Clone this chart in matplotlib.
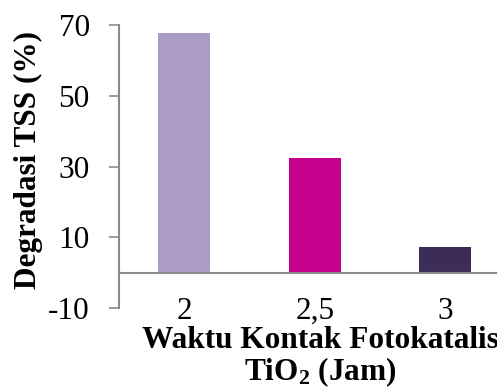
import matplotlib
matplotlib.use("Agg")
import matplotlib.pyplot as plt

plt.rcParams['font.family'] = 'Liberation Serif'
plt.rcParams['mathtext.default'] = 'regular'

categories = ['2', '2,5', '3']
degradasi = [67.8, 32.3, 7.2]
colors = ['#ab9bc7', '#c4008c', '#3c2c58']
yticks = [-10, 10, 30, 50, 70]

W, H = 497, 390
fig = plt.figure(figsize=(W / 100, H / 100), dpi=100)
# axes extends past right edge like the cropped original
ax = fig.add_axes([119 / W, 1 - 308 / H, 391.5 / W, 283 / H])

x = range(len(categories))
ax.bar(x, degradasi, width=0.4, color=colors, zorder=2)
ax.axhline(0, color='#8a8a8a', lw=1.5, zorder=3)

ax.set_xlim(-0.5, 2.5)
ax.set_ylim(-10, 70)
ax.set_yticks(yticks)
ax.set_yticklabels([str(t) for t in yticks])
ax.set_xticks(list(x))
ax.set_xticklabels(categories, fontsize=22.5)

for s in ['top', 'right', 'bottom']:
    ax.spines[s].set_visible(False)
ax.spines['left'].set_color('#8a8a8a')
ax.spines['left'].set_linewidth(1.5)

ax.tick_params(axis='y', length=7, width=1.2, color='#8a8a8a', labelsize=22.5, pad=14)
ax.tick_params(axis='x', length=0, pad=-8)

fig.text(28 / W, 1 - 160 / H, 'Degradasi TSS (%)', rotation=90, fontsize=22.5,
         fontweight='bold', ha='center', va='center')
fig.text(320 / W, 1 - 348 / H, 'Waktu Kontak Fotokatalis', fontsize=22.5,
         fontweight='bold', ha='center', va='baseline')
fig.text(320 / W, 1 - 380 / H, 'TiO$_2$ (Jam)', fontsize=22.5,
         fontweight='bold', ha='center', va='baseline')

fig.savefig('out.png', dpi=100)
